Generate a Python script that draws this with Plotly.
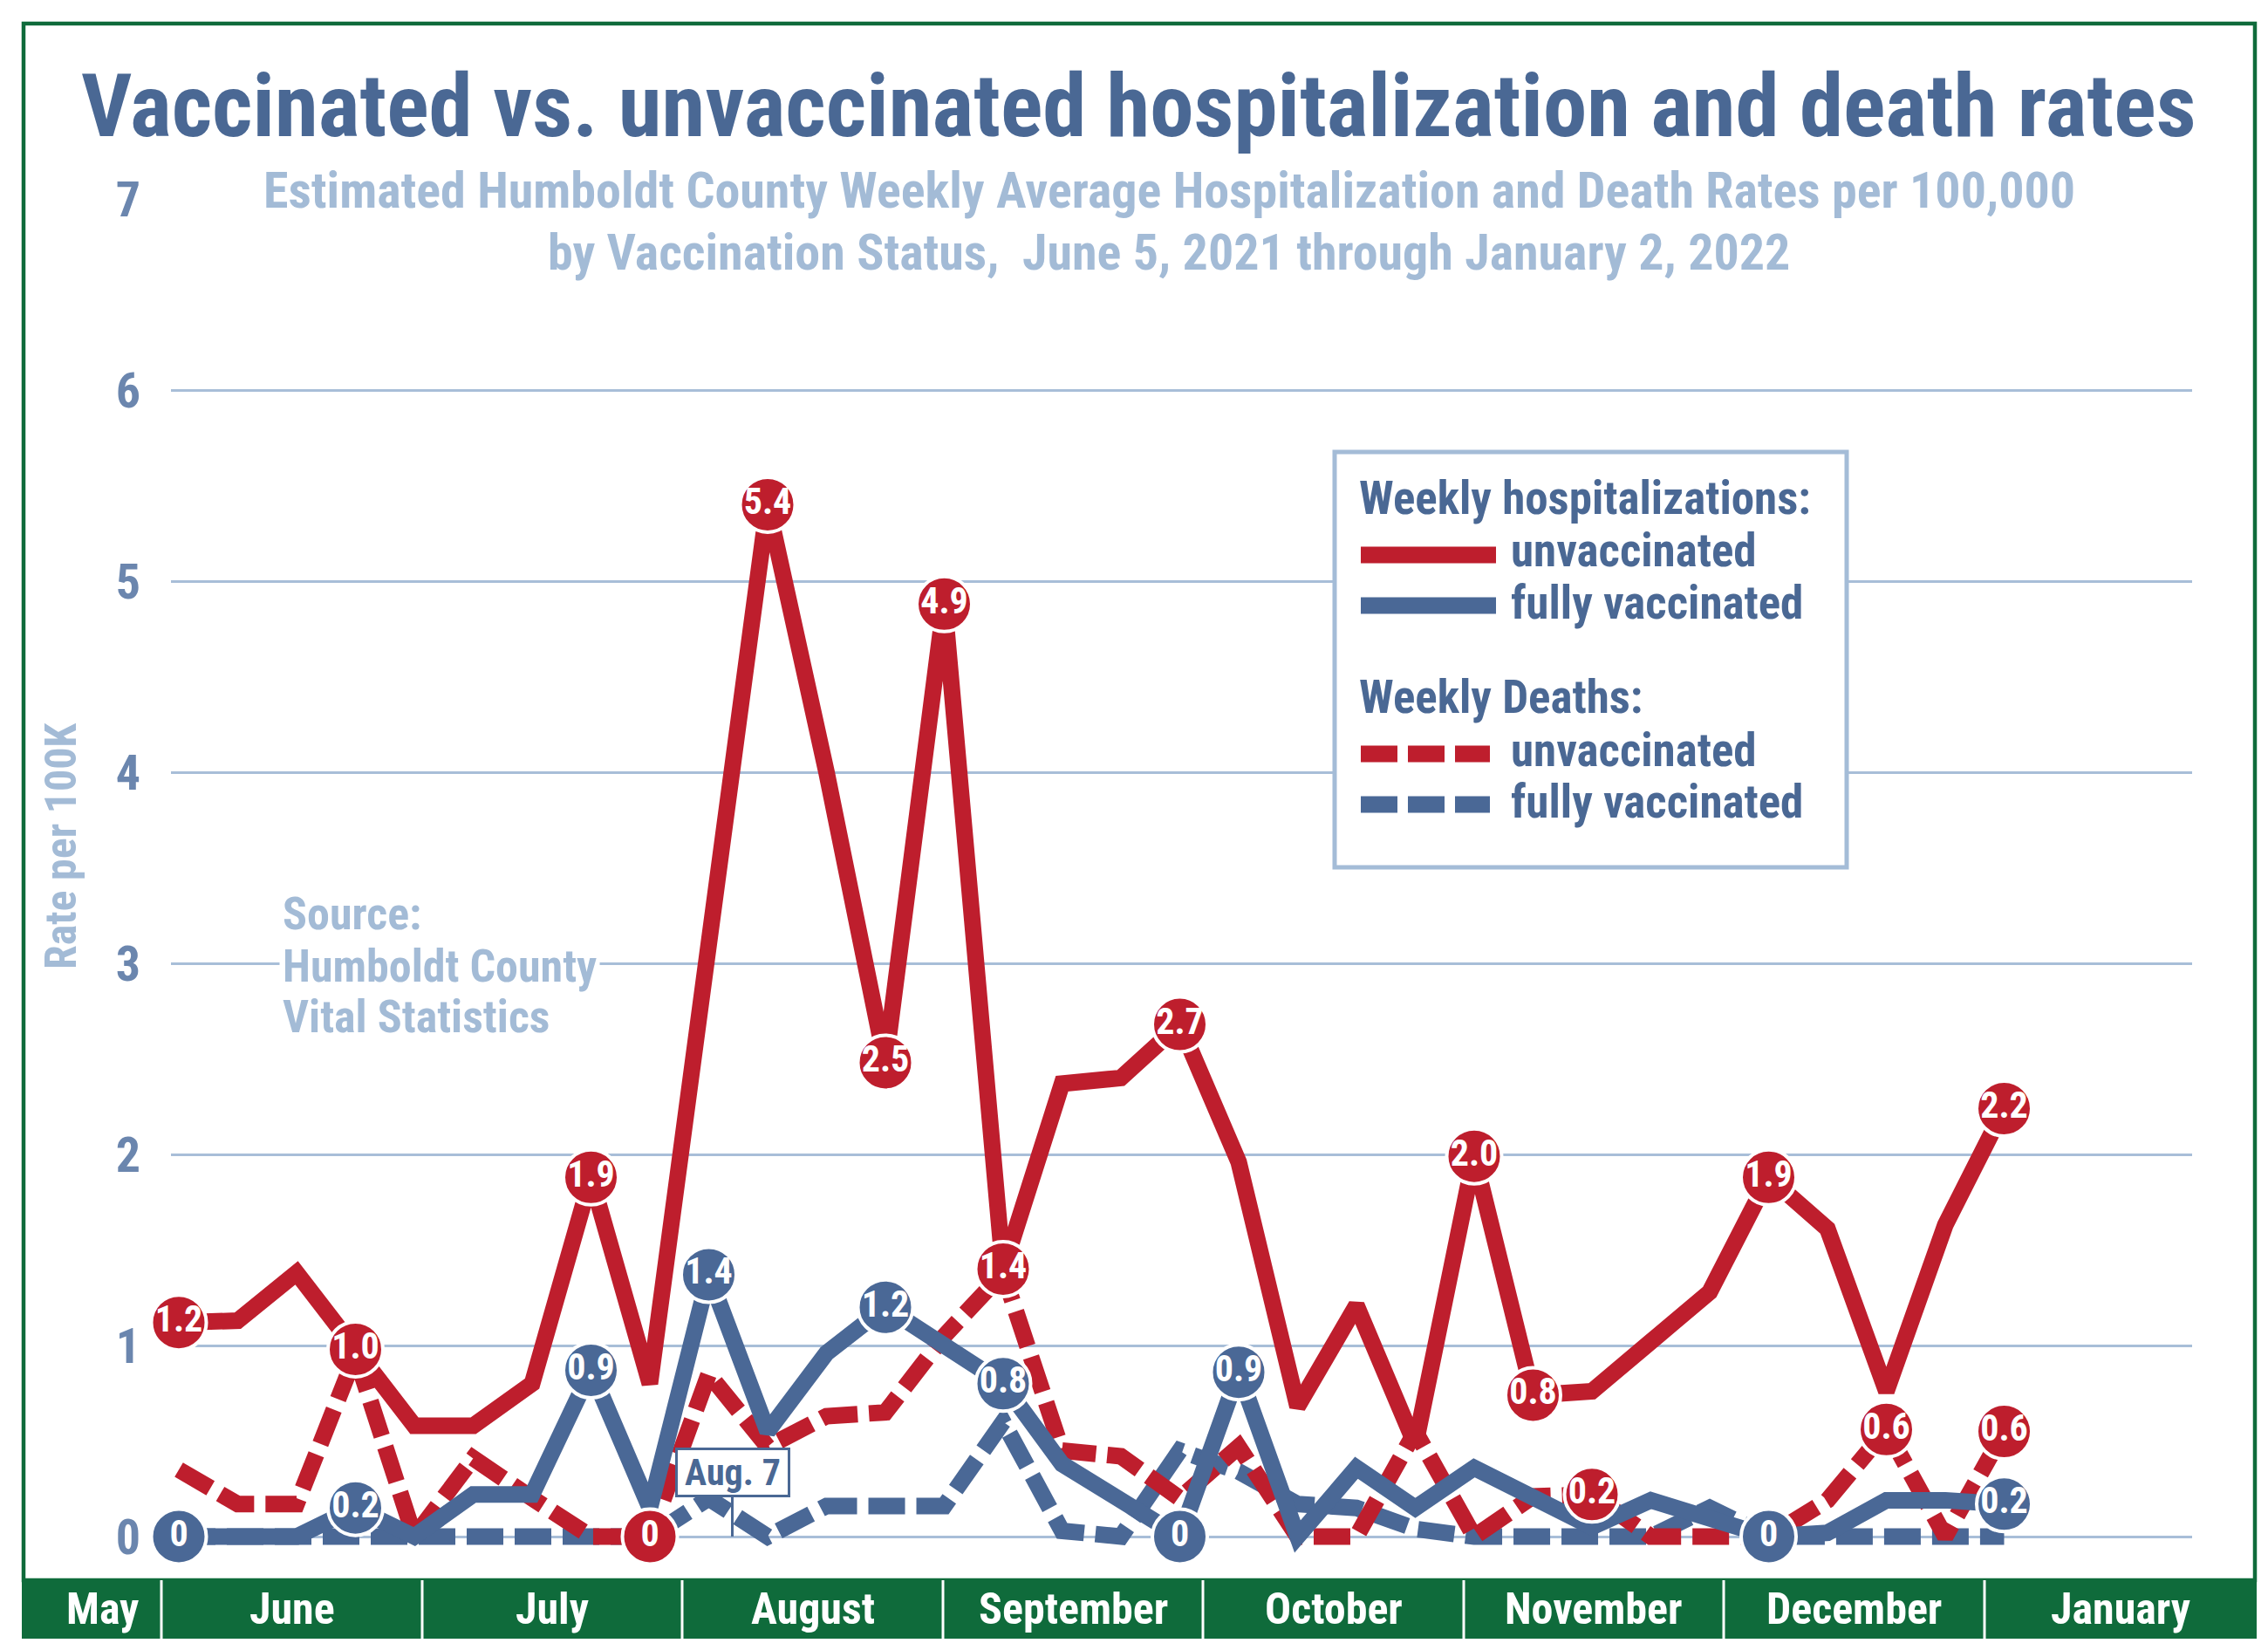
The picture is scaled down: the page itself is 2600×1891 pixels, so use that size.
import plotly.graph_objects as go

W, H = 2600, 1891

# ---------------- data ----------------
weeks = list(range(32))  # weekly points, early June 2021 -> early January 2022

hosp_unvax = [1.12, 1.13, 1.38, 0.98, 0.58, 0.58, 0.80, 1.88, 0.80, 3.10,
              5.40, 4.00, 2.48, 4.88, 1.40, 2.37, 2.40, 2.68, 1.96, 0.68,
              1.21, 0.48, 1.99, 0.74, 0.76, 1.02, 1.28, 1.88, 1.61, 0.76,
              1.63, 2.24]
hosp_vax = [0.00, 0.00, 0.00, 0.15, 0.00, 0.22, 0.22, 0.87, 0.15, 1.37,
            0.55, 0.96, 1.20, 1.00, 0.80, 0.38, 0.19, 0.00, 0.86, 0.00,
            0.36, 0.15, 0.36, 0.21, 0.05, 0.19, 0.09, 0.00, 0.02, 0.19,
            0.19, 0.17]
death_unvax = [0.35, 0.17, 0.17, 0.95, 0.00, 0.41, 0.20, 0.00, 0.00, 0.85,
               0.47, 0.63, 0.65, 1.05, 1.38, 0.45, 0.42, 0.20, 0.47, 0.00,
               0.00, 0.55, 0.00, 0.21, 0.22, 0.00, 0.00, 0.00, 0.19, 0.56,
               0.00, 0.55]
death_vax = [0.00, 0.00, 0.00, 0.00, 0.00, 0.00, 0.00, 0.00, 0.00, 0.20,
             0.00, 0.16, 0.16, 0.16, 0.60, 0.03, 0.00, 0.45, 0.34, 0.17,
             0.15, 0.04, 0.00, 0.00, 0.00, 0.00, 0.15, 0.00, 0.00, 0.00,
             0.00, 0.00]

hosp_unvax_labels = ["1.2", "", "", "1.0", "", "", "", "1.9", "", "", "5.4", "",
                     "2.5", "4.9", "1.4", "", "", "2.7", "", "", "", "", "2.0",
                     "0.8", "", "", "", "1.9", "", "", "", "2.2"]
hosp_vax_labels = ["0", "", "", "0.2", "", "", "", "0.9", "", "1.4", "", "",
                   "1.2", "", "0.8", "", "", "0", "0.9", "", "", "", "", "",
                   "", "", "", "0", "", "", "", "0.2"]
death_unvax_labels = ["", "", "", "", "", "", "", "", "0", "", "", "", "", "",
                      "", "", "", "", "", "", "", "", "", "", "0.2", "", "", "",
                      "", "0.6", "", "0.6"]

months = ["May", "June", "July", "August", "September", "October",
          "November", "December", "January"]
y_ticks = [0, 1, 2, 3, 4, 5, 6, 7]
grid_vals = [0, 1, 2, 3, 4, 5, 6]

title_text = "Vaccinated vs. unvaccinated hospitalization and death rates"
subtitle_lines = [
    "Estimated Humboldt County Weekly Average Hospitalization and Death Rates per 100,000",
    "by Vaccination Status,  June 5, 2021 through January 2, 2022",
]
source_lines = ["Source:", "Humboldt County", "Vital Statistics"]

# ---------------- styling ----------------
RED = "#be1e2d"
BLUE = "#4a6896"
GRID = "#a8bed8"
TITLE = "#4a6894"
SUB = "#a3bbd6"
TICK = "#6b86ae"
GREEN = "#0f6b3b"
COND = "Roboto Condensed, DejaVu Sans Condensed, Roboto, sans-serif"


def px(x):
    return x / W


def py(y):
    return 1 - y / H


# plot-area geometry (pixels)
PL, PR, PT, PB = 188, 2505, 145, 1797
X0, DX = 197, 67.5          # pixel of week 0 and pixels per week
Y0, DY = 1753, 219          # pixel of value 0 and pixels per unit
xr = [(PL - X0) / DX, (PR - X0) / DX]
yr = [(Y0 - PB) / DY, (Y0 - PT) / DY]

fig = go.Figure()

line_series = [
    (death_vax, BLUE, "42px,13px", "Weekly deaths, fully vaccinated"),
    (death_unvax, RED, "42px,13px", "Weekly deaths, unvaccinated"),
    (hosp_vax, BLUE, "solid", "Weekly hospitalizations, fully vaccinated"),
    (hosp_unvax, RED, "solid", "Weekly hospitalizations, unvaccinated"),
]
for vals, col, dash, name in line_series:
    fig.add_trace(go.Scatter(
        x=weeks, y=vals, mode="lines", name=name,
        line=dict(color=col, width=19, dash=dash),
        cliponaxis=False, showlegend=False, hoverinfo="x+y+name"))

label_series = [
    (hosp_vax, hosp_vax_labels, BLUE),
    (death_unvax, death_unvax_labels, RED),
    (hosp_unvax, hosp_unvax_labels, RED),
]
for vals, labs, col in label_series:
    xs = [w for w, l in zip(weeks, labs) if l]
    ys = [v for v, l in zip(vals, labs) if l]
    ts = [l for l in labs if l]
    fig.add_trace(go.Scatter(
        x=xs, y=ys, text=ts, mode="markers+text", yaxis="y2",
        marker=dict(size=63, color=col, line=dict(color="white", width=4)),
        textposition="middle center",
        textfont=dict(family=COND, size=42, color="white", weight="bold"),
        cliponaxis=False, showlegend=False, hoverinfo="skip"))

shapes = []
annotations = []

# outer green frame
shapes.append(dict(type="rect", xref="paper", yref="paper",
                   x0=px(19), x1=px(2577), y0=py(1803), y1=py(19),
                   line=dict(color=GREEN, width=4.5), fillcolor="rgba(0,0,0,0)",
                   layer="above"))

# month band
month_edges = [17, 177, 476, 774, 1073, 1371, 1670, 1968, 2267, 2579]
shapes.append(dict(type="rect", xref="paper", yref="paper",
                   x0=px(month_edges[0]), x1=px(month_edges[-1]),
                   y0=py(1870), y1=py(1803), line=dict(width=0),
                   fillcolor=GREEN, layer="above"))
for e in month_edges[1:-1]:
    shapes.append(dict(type="line", xref="paper", yref="paper",
                       x0=px(e), x1=px(e), y0=py(1870), y1=py(1803),
                       line=dict(color="white", width=3), layer="above"))
for m, a, b in zip(months, month_edges[:-1], month_edges[1:]):
    annotations.append(dict(text=m, xref="paper", yref="paper",
                            x=px((a + b) / 2 + (12 if m == "May" else 0)),
                            y=py(1836), showarrow=False,
                            xanchor="center", yanchor="middle",
                            font=dict(family=COND, size=50, color="white", weight="bold")))

# legend box
shapes.append(dict(type="rect", xref="paper", yref="paper",
                   x0=px(1522), x1=px(2109), y0=py(986), y1=py(510),
                   line=dict(color="#a4bcd7", width=5), fillcolor="white",
                   layer="above"))
leg_lines = [(628, RED, "solid"), (686, BLUE, "solid"),
             (856, RED, "42px,12px"), (914, BLUE, "42px,12px")]
for yy, col, dash in leg_lines:
    shapes.append(dict(type="line", xref="paper", yref="paper",
                       x0=px(1552), x1=px(1707 if dash == "solid" else 1700),
                       y0=py(yy), y1=py(yy),
                       line=dict(color=col, width=19, dash=dash), layer="above"))
leg_text = [("Weekly hospitalizations:", 1548, 563),
            ("unvaccinated", 1722, 623),
            ("fully vaccinated", 1722, 683),
            ("Weekly Deaths:", 1548, 791),
            ("unvaccinated", 1722, 852),
            ("fully vaccinated", 1722, 911)]
for t, xx, yy in leg_text:
    annotations.append(dict(text=t, xref="paper", yref="paper", x=px(xx), y=py(yy),
                            showarrow=False, xanchor="left", yanchor="middle",
                            font=dict(family=COND, size=53, color=TITLE, weight="bold")))

# title
annotations.append(dict(text=title_text, xref="paper", yref="paper",
                        x=px(1297), y=py(114), showarrow=False,
                        xanchor="center", yanchor="middle",
                        font=dict(family=COND, size=101, color=TITLE, weight="bold")))

# subtitle (two lines)
for t, yy in zip(subtitle_lines, [210, 281]):
    annotations.append(dict(text=t, xref="paper", yref="paper", x=px(1332), y=py(yy),
                            showarrow=False, xanchor="center", yanchor="middle",
                            font=dict(family=COND, size=58, color=SUB, weight="bold")))

# y-axis title
annotations.append(dict(text="Rate per 100K", xref="paper", yref="paper",
                        x=px(62), y=py(962), showarrow=False, textangle=-90,
                        xanchor="center", yanchor="middle",
                        font=dict(family=COND, size=50, color=SUB, weight="bold")))

# source note
for t, yy in zip(source_lines, [1039, 1099, 1157]):
    annotations.append(dict(text=t, xref="paper", yref="paper", x=px(312), y=py(yy),
                            showarrow=False, xanchor="left", yanchor="middle",
                            align="left", bgcolor="white", borderpad=3,
                            font=dict(family=COND, size=52, color=SUB, weight="bold")))

# Aug. 7 marker
annotations.append(dict(text="Aug. 7", x=9.4, y=0, xref="x", yref="y",
                        showarrow=True, arrowhead=0, arrowwidth=3,
                        arrowcolor=TITLE, ax=0, ay=-74, standoff=0,
                        bordercolor=TITLE, borderwidth=3, borderpad=1,
                        bgcolor="white", width=124,
                        font=dict(family=COND, size=42, color=TITLE, weight="bold")))

fig.update_layout(
    width=W, height=H,
    margin=dict(l=0, r=0, t=0, b=0),
    paper_bgcolor="white", plot_bgcolor="white",
    xaxis=dict(domain=[px(PL), px(PR)], range=xr, visible=False, fixedrange=True),
    yaxis=dict(domain=[py(PB), py(PT)], range=yr, tickvals=grid_vals,
               showticklabels=False, showgrid=True, gridcolor=GRID, gridwidth=3,
               zeroline=False, ticks="", showline=False),
    yaxis2=dict(overlaying="y", range=yr, tickvals=y_ticks,
                ticktext=[str(v) for v in y_ticks], showgrid=False,
                zeroline=False, ticks="", ticklabelstandoff=34, side="left",
                tickfont=dict(family=COND, size=56, color=TICK, weight="bold")),
    shapes=shapes,
    annotations=annotations,
    showlegend=False,
)

fig.write_html("out.html")
